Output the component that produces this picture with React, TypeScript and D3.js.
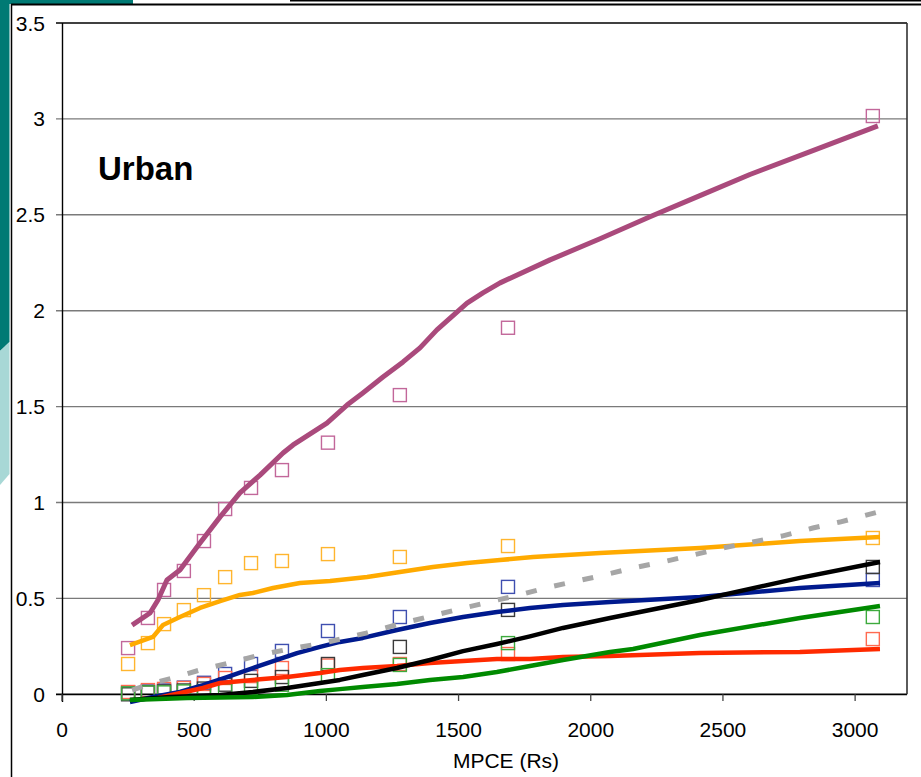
import React from "react";
import * as d3 from "d3";

// ---- Data ----
const mpceClasses = [250, 325, 386, 461, 537, 617, 715, 832, 1006, 1278, 1687, 3067];
const obsPink = [0.241, 0.398, 0.544, 0.643, 0.799, 0.966, 1.076, 1.169, 1.312, 1.56, 1.911, 3.015];
const obsOrange = [0.158, 0.267, 0.366, 0.439, 0.517, 0.611, 0.684, 0.695, 0.731, 0.716, 0.773, 0.815];
const obsBlue = [0.01, 0.015, 0.02, 0.035, 0.06, 0.106, 0.158, 0.226, 0.33, 0.403, 0.56, 0.596];
const obsRed = [0.012, 0.022, 0.028, 0.033, 0.054, 0.085, 0.095, 0.137, 0.15, 0.158, 0.21, 0.288];
const obsBlack = [0.0, 0.01, 0.015, 0.02, 0.03, 0.05, 0.07, 0.09, 0.158, 0.247, 0.44, 0.664];
const obsGreen = [0.005, 0.01, 0.01, 0.015, 0.015, 0.02, 0.035, 0.05, 0.1, 0.153, 0.267, 0.403];

const fitPink: [number, number][] = [
  [265, 0.361], [333, 0.424], [363, 0.492], [397, 0.596], [446, 0.648], [522, 0.789], [598, 0.925],
  [673, 1.05], [749, 1.143], [836, 1.258], [874, 1.3], [1002, 1.414], [1078, 1.508], [1138, 1.571],
  [1214, 1.654], [1290, 1.733], [1354, 1.806], [1418, 1.9], [1532, 2.04], [1592, 2.093], [1657, 2.145],
  [1846, 2.265], [2035, 2.375], [2224, 2.49], [2413, 2.6], [2602, 2.71], [2840, 2.835], [3086, 2.964],
];
const fitOrange: [number, number][] = [
  [257, 0.257], [344, 0.299], [382, 0.361], [446, 0.403], [522, 0.45], [598, 0.486], [673, 0.518],
  [722, 0.528], [798, 0.554], [900, 0.58], [1014, 0.591], [1154, 0.612], [1278, 0.638], [1403, 0.664],
  [1532, 0.685], [1657, 0.7], [1782, 0.716], [2035, 0.737], [2413, 0.763], [2791, 0.799], [3094, 0.82],
];
const fitBlue: [number, number][] = [
  [257, -0.04], [344, -0.014], [446, 0.012], [533, 0.048], [624, 0.09], [722, 0.137], [813, 0.179],
  [889, 0.215], [976, 0.247], [1051, 0.273], [1138, 0.294], [1267, 0.335], [1392, 0.372], [1517, 0.403],
  [1645, 0.429], [1770, 0.45], [1895, 0.466], [2073, 0.481], [2413, 0.507], [2791, 0.554], [3094, 0.58],
];
const fitRed: [number, number][] = [
  [363, -0.019], [533, 0.033], [598, 0.059], [722, 0.075], [851, 0.09], [976, 0.111], [1051, 0.127],
  [1138, 0.137], [1267, 0.148], [1392, 0.163], [1517, 0.174], [1645, 0.184], [1770, 0.184], [1895, 0.195],
  [2073, 0.2], [2413, 0.215], [2791, 0.221], [3094, 0.236],
];
const fitBlack: [number, number][] = [
  [257, -0.03], [408, -0.014], [598, -0.004], [722, 0.012], [851, 0.033], [976, 0.059], [1051, 0.075],
  [1138, 0.101], [1267, 0.137], [1392, 0.179], [1517, 0.225], [1645, 0.262], [1770, 0.302], [1895, 0.346],
  [2073, 0.398], [2413, 0.492], [2791, 0.607], [3094, 0.69],
];
const fitGreen: [number, number][] = [
  [257, -0.03], [473, -0.019], [722, -0.014], [851, -0.004], [976, 0.017], [1051, 0.027], [1138, 0.038],
  [1267, 0.054], [1392, 0.075], [1517, 0.09], [1645, 0.116], [1770, 0.148], [1895, 0.179], [2073, 0.221],
  [2160, 0.236], [2413, 0.309], [2791, 0.398], [3094, 0.46],
];
const fitGray: [number, number][] = [
  [265, 0.022], [344, 0.059], [420, 0.085], [522, 0.127], [647, 0.168], [749, 0.205], [859, 0.236],
  [987, 0.267], [1150, 0.319], [1278, 0.367], [1414, 0.414], [1535, 0.455], [1649, 0.492], [1717, 0.513],
  [1827, 0.554], [2035, 0.617], [2160, 0.659], [2288, 0.695], [2386, 0.726], [2500, 0.763], [2613, 0.794],
  [2723, 0.825], [2840, 0.867], [2942, 0.898], [3086, 0.95],
];

const xTicks = [0, 500, 1000, 1500, 2000, 2500, 3000];
const yTicks = [0, 0.5, 1, 1.5, 2, 2.5, 3, 3.5];
const xTickLabels = ["0", "500", "1000", "1500", "2000", "2500", "3000"];
const yTickLabels = ["0", "0.5", "1", "1.5", "2", "2.5", "3", "3.5"];
const xTitle = "MPCE (Rs)";
const panelTitle = "Urban";

const W = 921;
const H = 777;
const FONT = "'Liberation Sans', Arial, Helvetica, sans-serif";

export default function App() {
  const x = d3.scaleLinear().domain([0, 3200]).range([62, 908]);
  const y = d3.scaleLinear().domain([0, 3.5]).range([694.3, 23]);
  const line = d3
    .line<[number, number]>()
    .x((d) => x(d[0]))
    .y((d) => y(d[1]));

  const markerSets = [
    { vals: obsPink, color: "#C2679A" },
    { vals: obsOrange, color: "#FFB52E" },
    { vals: obsBlue, color: "#3F4FB0" },
    { vals: obsRed, color: "#FF6A50" },
    { vals: obsBlack, color: "#3A3A3A" },
    { vals: obsGreen, color: "#3DAA3D" },
  ];
  const lines = [
    { data: fitPink, color: "#AA4A7C", w: 5 },
    { data: fitOrange, color: "#FFAA00", w: 4.5 },
    { data: fitBlue, color: "#001A8E", w: 4.5 },
    { data: fitRed, color: "#FF2A00", w: 4.5 },
    { data: fitBlack, color: "#000000", w: 4.5 },
    { data: fitGreen, color: "#008A00", w: 4.5 },
  ];
  const S = 13;

  return (
    <div style={{ position: "absolute", left: 0, top: 0 }}>
      <svg width={W} height={H} style={{ display: "block", background: "#fff" }}>
        {/* decorative frame */}
        <rect x={0} y={0} width={W} height={H} fill="#fff" />
        <polygon points="0,0 9.5,0 9.5,342 0,351" fill="#007A74" />
        <rect x={0} y={0} width={133} height={4} fill="#007A74" />
        <polygon points="0,351 9.5,342 9.5,474 0,485" fill="#A8D8D6" />
        <line x1={11.5} y1={4} x2={11.5} y2={H} stroke="#000" strokeWidth={1.5} />
        <line x1={11} y1={4.5} x2={W} y2={4.5} stroke="#000" strokeWidth={1.8} />
        <line x1={290} y1={0.8} x2={W} y2={0.8} stroke="#000" strokeWidth={1.6} />

        {/* gridlines */}
        {yTicks.map((t, i) => (
          <line
            key={"g" + i}
            x1={56}
            x2={907}
            y1={y(t)}
            y2={y(t)}
            stroke={t === 0 ? "#000" : t === 3.5 ? "#404040" : "#7a7a7a"}
            strokeWidth={t === 0 || t === 3.5 ? 1.8 : 1.4}
          />
        ))}
        <line x1={907} x2={907} y1={y(3.5)} y2={y(0)} stroke="#333" strokeWidth={1.6} />
        <line x1={62.5} x2={62.5} y1={y(3.5)} y2={702} stroke="#000" strokeWidth={1.4} />
        {xTicks.map((t, i) => (
          <line key={"xt" + i} x1={x(t)} x2={x(t)} y1={y(0)} y2={701} stroke="#444" strokeWidth={1.3} />
        ))}

        {/* tick labels */}
        {yTicks.map((t, i) => (
          <text
            key={"yl" + i}
            x={45}
            y={y(t) + 7.5}
            textAnchor="end"
            fontFamily={FONT}
            fontSize={21}
            fill="#000"
          >
            {yTickLabels[i]}
          </text>
        ))}
        {xTicks.map((t, i) => (
          <text
            key={"xl" + i}
            x={x(t)}
            y={737}
            textAnchor="middle"
            fontFamily={FONT}
            fontSize={21}
            fill="#000"
          >
            {xTickLabels[i]}
          </text>
        ))}
        <text x={506} y={768} textAnchor="middle" fontFamily={FONT} fontSize={21} fill="#000">
          {xTitle}
        </text>
        <text x={98} y={180} fontFamily={FONT} fontSize={33} fontWeight="bold" fill="#000">
          {panelTitle}
        </text>

        {/* observed markers */}
        {markerSets.map((m, si) =>
          m.vals.map((v, i) => (
            <rect
              key={"m" + si + "-" + i}
              x={x(mpceClasses[i]) - S / 2}
              y={y(v) - S / 2}
              width={S}
              height={S}
              fill="none"
              stroke={m.color}
              strokeWidth={1.4}
            />
          ))
        )}

        {/* fitted lines */}
        {lines.map((l, i) => (
          <path
            key={"l" + i}
            d={line(l.data) || ""}
            fill="none"
            stroke={l.color}
            strokeWidth={l.w}
            strokeLinejoin="round"
            strokeLinecap="butt"
          />
        ))}
        <path
          d={line(fitGray) || ""}
          fill="none"
          stroke="#A6A6A6"
          strokeWidth={5}
          strokeDasharray="11,18"
        />
      </svg>
    </div>
  );
}
